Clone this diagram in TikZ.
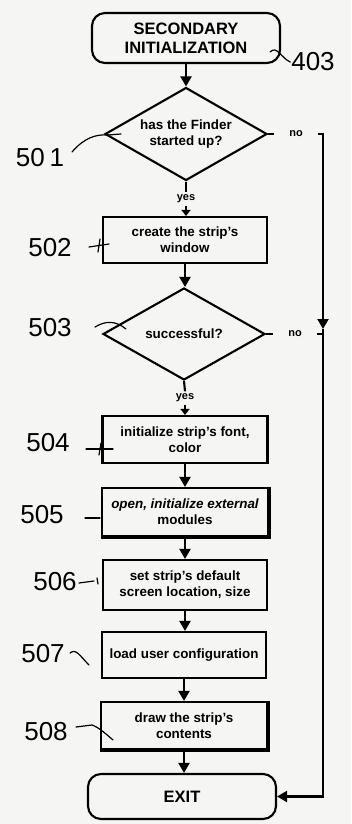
\documentclass[tikz,border=0pt]{standalone}
\usepackage{fontspec}
\setmainfont{Liberation Sans}
\usetikzlibrary{shapes.geometric,arrows.meta}
\definecolor{paper}{RGB}{245,245,243}
\begin{document}
\begin{tikzpicture}[x=1pt,y=-1pt,
  line width=2.1pt,
  boxtxt/.style={font=\bfseries\fontsize{13.4}{16}\selectfont, align=center},
  proc/.style={draw, rectangle, boxtxt, inner sep=0pt, minimum width=164pt, minimum height=47pt},
  term/.style={draw, rectangle, rounded corners=13pt, align=center, font=\bfseries\fontsize{16.5}{19}\selectfont, inner sep=0pt, minimum width=188pt},
  dec/.style={draw, diamond, boxtxt, inner sep=0pt, aspect=1.75, minimum width=162pt, minimum height=93pt},
  yn/.style={font=\bfseries\fontsize{11}{12}\selectfont, inner ysep=1.5pt, inner xsep=0pt},
  hand/.style={font=\fontsize{26}{26}\selectfont, inner sep=0pt},
  lead/.style={line width=1.2pt, line cap=round},
  arr/.style={-{Triangle[length=10pt,width=11pt]}},
  sarr/.style={-{Triangle[length=6pt,width=9pt]}},
]
\fill[paper] (0,0) rectangle (351,824);
\useasboundingbox (0,0) rectangle (351,824);

% main flow
\node[term, minimum height=50pt] (start) at (186,38) {SECONDARY\\INITIALIZATION};
\node[dec] (d1) at (186,134) {has the Finder\\started up?};
\node[yn] (y1) at (186,199) {yes};
\node[proc, minimum height=46pt] (b2) at (185,240) {create the strip's\\window};
\node[dec, minimum height=92pt] (d3) at (184,334) {successful?};
\node[yn] (y3) at (185,398) {yes};
\node[proc, minimum width=165pt] (b4) at (185,439.5) {initialize strip's font,\\color};
\node[proc, minimum width=166pt, minimum height=48pt] (b5) at (185,512) {{\itshape open, initialize external}\\modules};
\node[proc, minimum height=50pt] (b6) at (185,585) {set strip's default\\screen location, size};
\node[proc, minimum height=46pt] (b7) at (184,655) {load user configuration};
\node[proc, minimum width=166pt] (b8) at (184,725.5) {draw the strip's\\contents};
\node[term, minimum height=45pt] (exit) at (182,796.5) {EXIT};

% heavier bottom edges
\draw[line width=2.2pt] ([yshift=-1pt]b5.south west) -- ([yshift=-1pt,xshift=0.6pt]b5.south east) -- ([xshift=0.6pt]b5.north east);
\draw[line width=2.2pt] ([yshift=-1pt]b8.south west) -- ([yshift=-1pt,xshift=0.6pt]b8.south east) -- ([xshift=0.6pt]b8.north east);

% vertical connectors
\draw[arr] (start.south) -- (d1.north);
\draw (d1.south) -- (y1.north);
\draw[sarr] (y1.south) -- (y1.south |- b2.north);
\draw[arr] (b2.south) -- (b2.south |- d3.north);
\draw (d3.south) -- (y3.north);
\draw[sarr] (y3.south) -- (y3.south |- b4.north);
\draw[arr] (b4.south) -- (b4.south |- b5.north);
\draw[arr] (b5.south) -- (b5.south |- b6.north);
\draw[arr] (b6.south) -- (b6.south |- b7.north);
\draw[arr] (b7.south) -- (b7.south |- b8.north);
\draw[arr] (b8.south) -- (b8.south |- exit.north);

% "no" branches
\node[yn, inner xsep=14.5pt] (n1) at (296,134) {no};
\node[yn, inner xsep=14pt] (n3) at (295,334) {no};
\coordinate (c1) at (323,134);
\coordinate (m1) at (323,329);
\draw (d1.east) -- (n1.west);
\draw[arr] (n1.east) -- (c1) -- (m1);
\draw[arr] (m1) |- (exit.east);
\draw (d3.east) -- (n3.west);
\draw (n3.east) -- (n3.east -| c1);

% handwritten reference numerals
\node[hand] (l403) at (313,62) {403};
\node[hand] (l501) at (40,158) {50\hspace{5pt}1};
\node[hand] (l502) at (50,248) {502};
\node[hand] (l503) at (50,328) {503};
\node[hand] (l504) at (48,443) {504};
\node[hand] (l505) at (42,515) {505};
\node[hand] (l506) at (55,582) {506};
\node[hand] (l507) at (43,654) {507};
\node[hand] (l508) at (46,732) {508};

% leader lines
\coordinate (k403) at (270,52);
\draw[lead] (k403) .. controls (277,45) and (281,58) .. (l403.west);
\coordinate (k501a) at (72,152);
\coordinate (k501b) at (121,134);
\draw[lead] (k501a) .. controls (84,138) and (96,134) .. (108,135) -- (k501b);
\coordinate (k502a) at (89,247);
\coordinate (k502b) at (109,244);
\draw[lead] (k502a) -- (k502b);
\draw[lead] (100,239) -- (98,252);
\coordinate (k503a) at (95,327);
\coordinate (k503b) at (126,329);
\draw[lead] (k503a) .. controls (105,321) and (115,320) .. (k503b);
\coordinate (k504a) at (86,449);
\coordinate (k504b) at (113,449);
\draw[lead] (k504a) -- (k504b);
\draw[lead] (101,443) -- (99,455);
\coordinate (k505a) at (85,518);
\coordinate (k505b) at (100,518);
\draw[lead] (k505a) -- (k505b);
\coordinate (k506a) at (79,583);
\coordinate (k506b) at (94,581);
\draw[lead] (k506a) -- (k506b);
\draw[lead] (97,578) -- (98,584);
\coordinate (k507a) at (70,653);
\coordinate (k507b) at (89,665);
\draw[lead] (k507a) .. controls (76,648) and (80,656) .. (k507b);
\coordinate (k508a) at (76,727);
\coordinate (k508b) at (113,740);
\draw[lead] (k508a) -- (92,725) .. controls (98,727) and (105,733) .. (k508b);
\end{tikzpicture}
\end{document}
